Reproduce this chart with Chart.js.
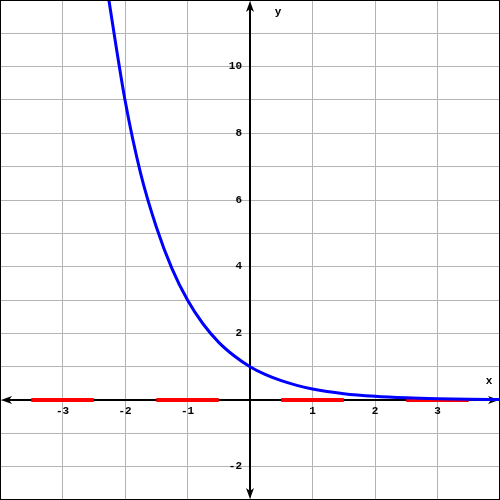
<!DOCTYPE html>
<html>
<head>
<meta charset="utf-8">
<script src="https://cdn.jsdelivr.net/npm/chart.js@4"></script>
<style>
  body { margin: 0; background: #fff; }
  canvas { display: block; }
</style>
</head>
<body>
<canvas id="chart" width="500" height="500"></canvas>
<script>
// curve
const curveX = [-2.3, -2, -1.75, -1.5, -1.25, -1, -0.75, -0.5, -0.25, 0, 0.25, 0.5, 0.75, 1, 1.5, 2, 2.5, 3, 3.5, 4];
const curveY = [12.5, 9, 6.8, 5.2, 3.95, 3, 2.28, 1.73, 1.32, 1, 0.76, 0.58, 0.44, 0.33, 0.19, 0.11, 0.064, 0.037, 0.021, 0.012];

// red pieces lying on the x axis
const redStart = [-3.5, -1.5, 0.5, 2.5];
const redEnd = [-2.5, -0.5, 1.5, 3.5];

const xTicks = [-3, -2, -1, 1, 2, 3];
const yTicks = [-2, 2, 4, 6, 8, 10];
const xRange = [-4, 4];
const yRange = [-3, 12];

const labelFont = 'bold 11px "Liberation Mono", "DejaVu Sans Mono", monospace';

function arrow(ctx, tipX, tipY, dx, dy) {
  // dx, dy: unit direction the arrow points to
  const len = 11, half = 4, notch = 8;
  const px = -dy, py = dx;
  ctx.beginPath();
  ctx.moveTo(tipX, tipY);
  ctx.lineTo(tipX - dx * len + px * half, tipY - dy * len + py * half);
  ctx.lineTo(tipX - dx * notch, tipY - dy * notch);
  ctx.lineTo(tipX - dx * len - px * half, tipY - dy * len - py * half);
  ctx.closePath();
  ctx.fill();
}

const axesPlugin = {
  id: 'axes',
  beforeDatasetsDraw(chart) {
    const { ctx, scales: { x, y } } = chart;
    const x0 = x.getPixelForValue(0);
    const y0 = y.getPixelForValue(0);
    ctx.save();
    ctx.strokeStyle = '#000';
    ctx.fillStyle = '#000';
    ctx.lineWidth = 2;
    ctx.beginPath();
    ctx.moveTo(x.left + 4, y0);
    ctx.lineTo(x.right - 4, y0);
    ctx.moveTo(x0, y.top + 4);
    ctx.lineTo(x0, y.bottom - 4);
    ctx.stroke();

    arrow(ctx, x.left + 1, y0, -1, 0);
    arrow(ctx, x.right - 1, y0, 1, 0);
    arrow(ctx, x0, y.top + 1, 0, -1);
    arrow(ctx, x0, y.bottom - 1, 0, 1);

    ctx.font = labelFont;
    ctx.textBaseline = 'middle';
    ctx.textAlign = 'center';
    xTicks.forEach(v => {
      ctx.fillText(String(v), x.getPixelForValue(v), y0 + 11);
    });
    ctx.textAlign = 'right';
    yTicks.forEach(v => {
      ctx.fillText(String(v), x0 - 8, y.getPixelForValue(v));
    });
    ctx.textAlign = 'center';
    ctx.fillText('y', x0 + 28, y.top + 12);
    ctx.fillText('x', x.right - 11, y0 - 19);
    ctx.restore();
  },
  afterDraw(chart) {
    const { ctx } = chart;
    ctx.save();
    ctx.strokeStyle = '#000';
    ctx.lineWidth = 2;
    ctx.strokeRect(0, 0, chart.width, chart.height);
    ctx.restore();
  }
};

const curveData = curveX.map((v, i) => ({ x: v, y: curveY[i] }));

const redSets = redStart.map((s, i) => ({
  data: [{ x: s, y: 0 }, { x: redEnd[i], y: 0 }],
  borderColor: '#ff0000',
  borderWidth: 4,
  pointRadius: 0,
  borderCapStyle: 'butt'
}));

new Chart(document.getElementById('chart'), {
  type: 'line',
  data: {
    datasets: [
      {
        data: curveData,
        borderColor: '#0000ff',
        borderWidth: 3,
        pointRadius: 0,
        cubicInterpolationMode: 'monotone'
      },
      ...redSets
    ]
  },
  options: {
    responsive: false,
    animation: false,
    layout: { padding: 0 },
    plugins: {
      legend: { display: false },
      tooltip: { enabled: false }
    },
    scales: {
      x: {
        type: 'linear',
        min: xRange[0],
        max: xRange[1],
        ticks: { stepSize: 1, display: false },
        grid: { color: '#b4b4b4', drawTicks: false },
        border: { display: false }
      },
      y: {
        type: 'linear',
        min: yRange[0],
        max: yRange[1],
        ticks: { stepSize: 1, display: false },
        grid: { color: '#b4b4b4', drawTicks: false },
        border: { display: false }
      }
    }
  },
  plugins: [axesPlugin]
});
</script>
</body>
</html>
